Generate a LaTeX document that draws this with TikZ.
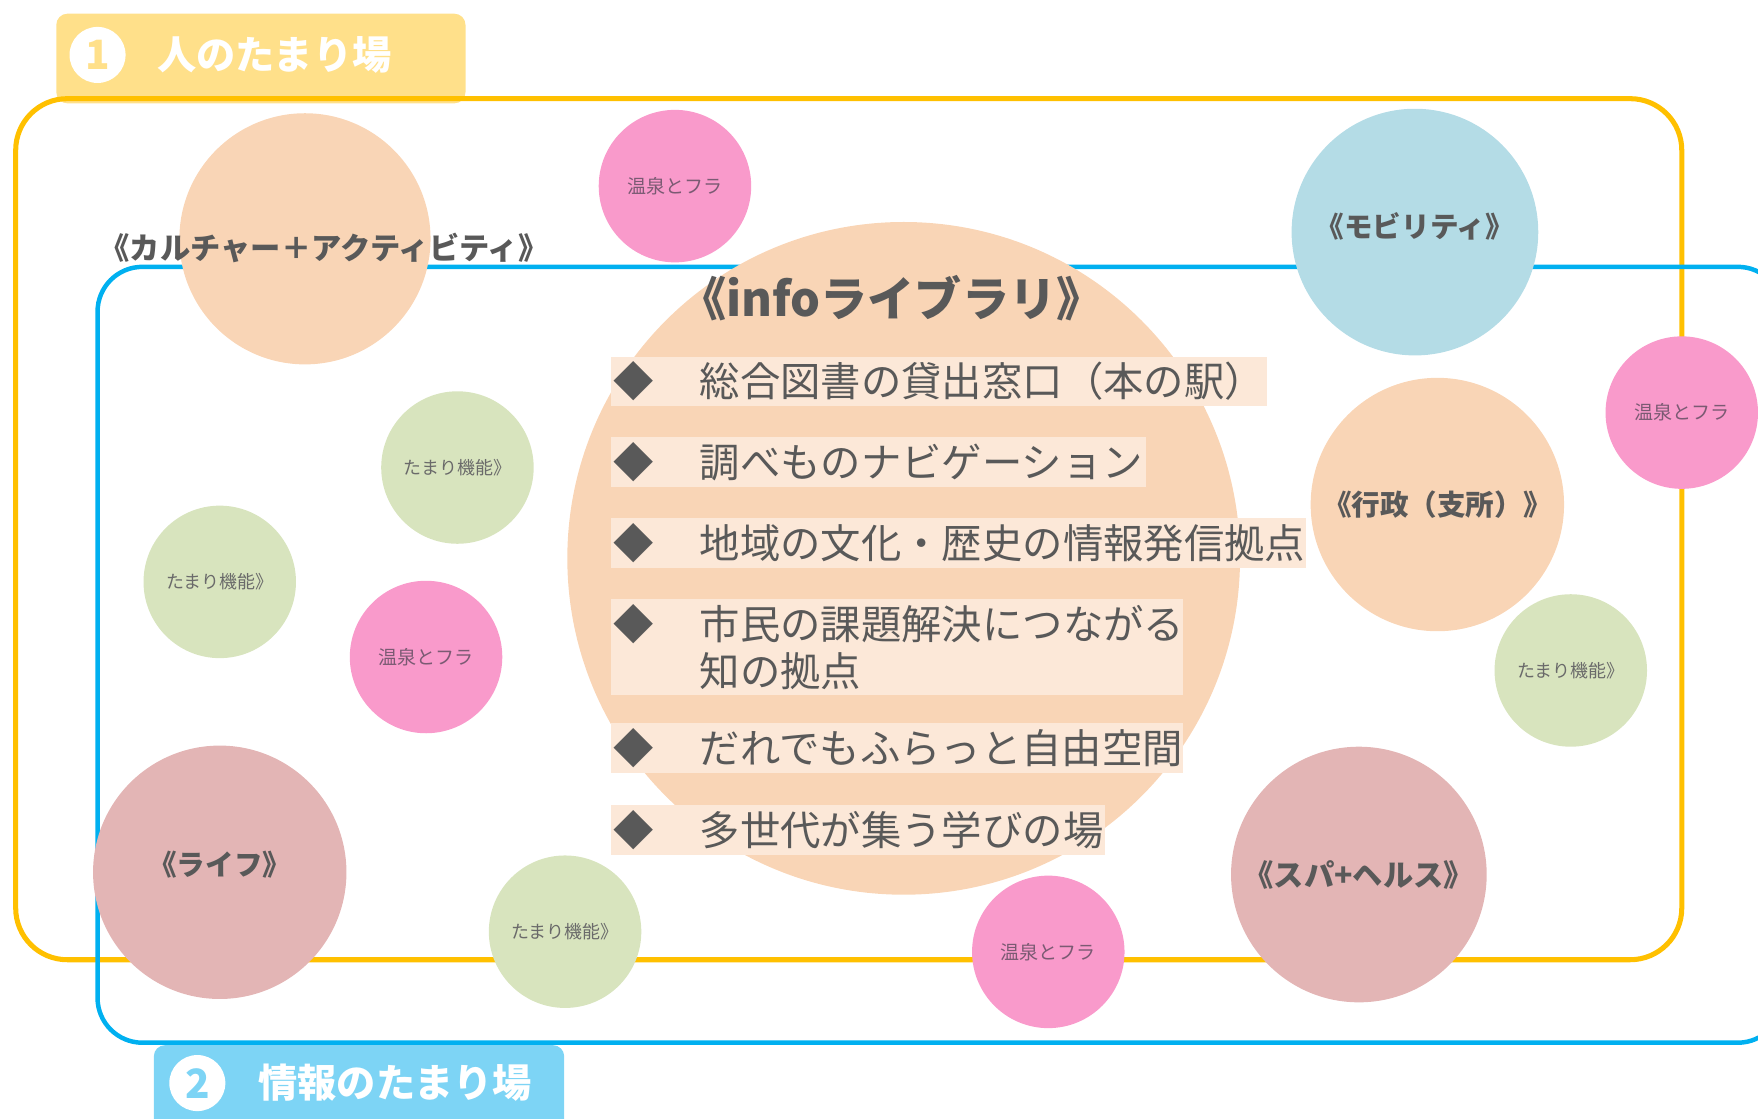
\documentclass[tikz,border=0pt]{standalone}
\usepackage{fontspec}
\setmainfont{Noto Sans CJK JP}
\usetikzlibrary{positioning}

\definecolor{peach}{HTML}{F9D5B6}
\definecolor{onsenpink}{HTML}{F99ACB}
\definecolor{mobblue}{HTML}{B4DCE6}
\definecolor{rose}{HTML}{E3B5B5}
\definecolor{tamarigreen}{HTML}{D8E4BE}
\definecolor{itemfill}{HTML}{FCE8D8}
\definecolor{tagyellow}{HTML}{FFE08A}
\definecolor{tagblue}{HTML}{7DD4F5}
\definecolor{frameorange}{HTML}{FFC000}
\definecolor{frameblue}{HTML}{00B0F0}
\definecolor{labelgray}{HTML}{595959}
\definecolor{onsentext}{HTML}{7B5A73}
\definecolor{tamaritext}{HTML}{6A6A6A}

\begin{document}
\begin{tikzpicture}[x=1pt, y=-1pt,
    frame/.style={line width=4.5pt},
    tagbox/.style={rectangle, rounded corners=10pt, anchor=north west, inner sep=0pt},
    tagnum/.style={circle, fill=white, minimum size=50pt, inner sep=0pt, font=\fontsize{36pt}{36pt}\selectfont\bfseries},
    tagtext/.style={inner sep=0pt, text=white, font=\fontsize{35pt}{35pt}\selectfont\bfseries},
    bubble/.style={circle, inner sep=0pt, minimum size=#1},
    bigbubble/.style={bubble=226pt, text=labelgray, font=\fontsize{25.5pt}{25pt}\selectfont\bfseries},
    smallbubble/.style={bubble=136pt},
    onsen/.style={smallbubble, fill=onsenpink, text=onsentext, font=\fontsize{17pt}{17pt}\selectfont},
    tamari/.style={smallbubble, fill=tamarigreen, text=tamaritext, font=\fontsize{16pt}{16pt}\selectfont},
    item/.style={anchor=north west, fill=itemfill, inner sep=0pt, minimum height=44pt, align=left, text=labelgray, font=\fontsize{36pt}{42pt}\selectfont}
]
\useasboundingbox (0,0) rectangle (1568,998);

% tags and frames
\node[tagbox, fill=tagyellow, minimum width=365pt, minimum height=80pt] (tag1) at (50,12) {};
\node[tagbox, fill=tagblue, minimum width=366pt, minimum height=80pt] (tag2) at (137,932) {};
\node[tagnum, text=tagyellow] (num1) at (87,49) {1};
\node[tagtext, right=28pt of num1] (tagtext1) {人のたまり場};
\node[tagnum, text=tagblue] (num2) at (176,966) {2};
\node[tagtext, right=29pt of num2] (tagtext2) {情報のたまり場};

\draw[frame, draw=frameorange, rounded corners=46pt] (14,88) rectangle (1500,856);
\draw[frame, draw=frameblue, line width=4pt, rounded corners=40pt] (87,238) rectangle (1590,930);

% bubbles
\node[bubble=224pt, fill=peach] (culture) at (272,213) {};
\node[text=labelgray, font=\fontsize{27pt}{27pt}\selectfont\bfseries] (culturelabel) at (289,221) {《カルチャー＋アクティビティ》};
\node[onsen] (onsen1) at (602,166) {温泉とフラ};
\node[bigbubble, bubble=220pt, fill=mobblue] (mobility) at (1262,207) {\raisebox{12pt}{《モビリティ》}};
\node[onsen] (onsen2) at (1500,368) {温泉とフラ};
\node[bigbubble, fill=peach] (gyosei) at (1282,450) {《行政（支所）》};
\node[tamari] (tamari1) at (1401,598) {たまり機能》};
\node[bigbubble, bubble=228pt, fill=rose] (spa) at (1212,780) {\fontsize{27pt}{27pt}\selectfont《スパ+ヘルス》};
\node[onsen] (onsen3) at (935,849) {温泉とフラ};
\node[tamari] (tamari2) at (504,831) {たまり機能》};
\node[bigbubble, fill=rose] (life) at (196,778) {\raisebox{16pt}{《ライフ》}};
\node[onsen] (onsen4) at (380,586) {温泉とフラ};
\node[tamari] (tamari3) at (196,519) {たまり機能》};
\node[tamari] (tamari4) at (408,417) {たまり機能》};

% info library
\node[bubble=600pt, fill=peach] (info) at (806,498) {};
\node[text=labelgray, font=\fontsize{42pt}{42pt}\selectfont\bfseries] (infotitle) at (795,266) {《infoライブラリ》};
\node[item, minimum width=585pt, text width=585pt] (item1) at (545,318) {\noindent\hspace*{2pt}◆\hspace{41pt}総合図書の貸出窓口（本の駅）};
\node[item, minimum width=477pt, text width=477pt] (item2) at (545,390) {\noindent\hspace*{2pt}◆\hspace{41pt}調べものナビゲーション};
\node[item, minimum width=620pt, text width=620pt] (item3) at (545,462) {\noindent\hspace*{2pt}◆\hspace{41pt}地域の文化・歴史の情報発信拠点};
\node[item, minimum width=510pt, text width=510pt, minimum height=86pt] (item4) at (545,534) {\noindent\hspace*{2pt}◆\hspace{41pt}市民の課題解決につながる\\\hspace*{79pt}知の拠点};
\node[item, minimum width=510pt, text width=510pt] (item5) at (545,645) {\noindent\hspace*{2pt}◆\hspace{41pt}だれでもふらっと自由空間};
\node[item, minimum width=440pt, text width=440pt] (item6) at (545,718) {\noindent\hspace*{2pt}◆\hspace{41pt}多世代が集う学びの場};
\end{tikzpicture}
\end{document}
